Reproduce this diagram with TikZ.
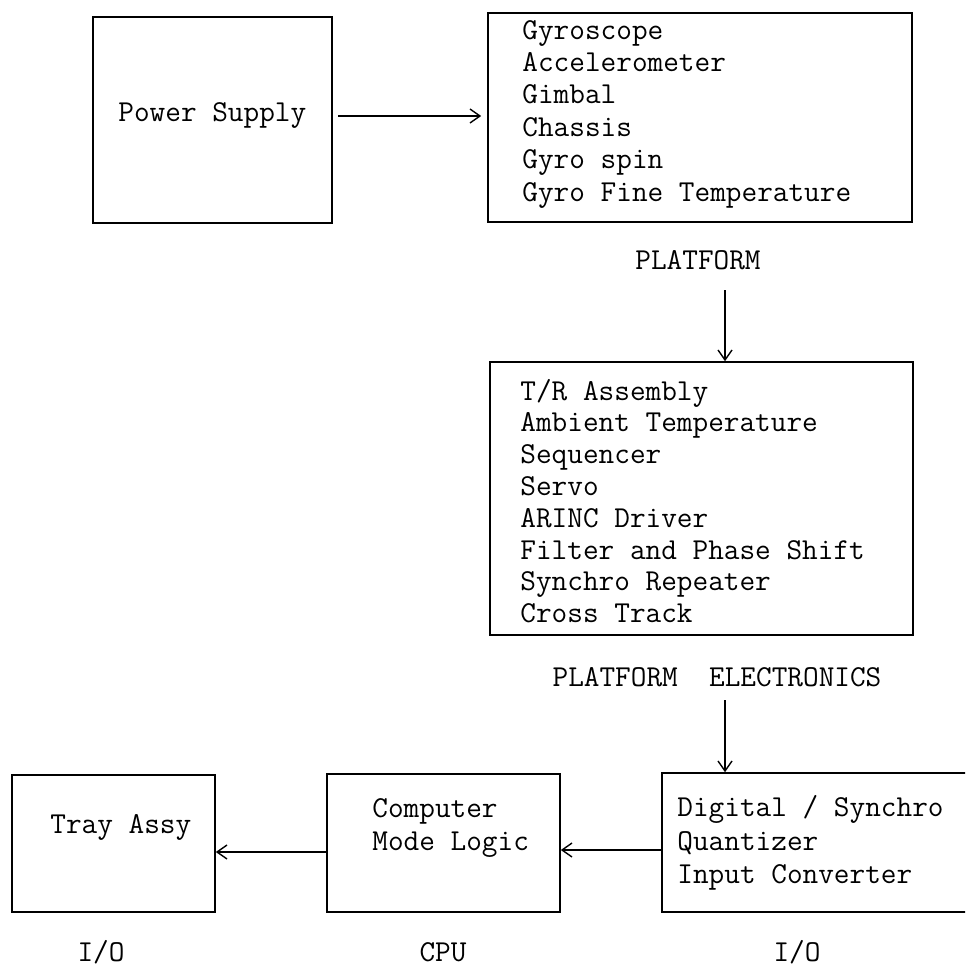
\documentclass[tikz,border=0pt]{standalone}
\usepackage{fontspec}
\usetikzlibrary{arrows.meta,fit}
\begin{document}
\begin{tikzpicture}[x=0.5pt,y=-0.5pt,
  box/.style={draw, line width=0.8pt, inner sep=0pt},
  txt/.style={font=\ttfamily\fontsize{15.2}{16.2}\selectfont, inner sep=0pt, align=left, anchor=west},
  txtb/.style={txt, font=\ttfamily\fontsize{15.2}{15.9}\selectfont},
  txtc/.style={txt, font=\ttfamily\fontsize{15.2}{16.6}\selectfont},
  lbl/.style={font=\ttfamily\fontsize{15.2}{16}\selectfont, inner sep=0pt},
  conn/.style={line width=0.7pt, -{Straight Barb[length=5pt,width=7pt]}}
]
\useasboundingbox (0,0) rectangle (965,968);
\clip (0,0) rectangle (965,968);

% boxes
\node[box, fit={(93,17) (332,223)}] (ps) {};
\node[box, fit={(488,13) (912,222)}] (plat) {};
\node[box, fit={(490,362) (913,635)}] (pe) {};
\node[box, fit={(662,773) (980,912)}] (dsq) {};
\node[box, fit={(327,774) (560,912)}] (cpu) {};
\node[box, fit={(12,775) (215,912)}] (tray) {};

% box texts
\node[txt] (pst) at (118,115) {Power Supply};
\node[txt] (platt) at (522,114) {Gyroscope\\Accelerometer\\Gimbal\\Chassis\\Gyro spin\\Gyro Fine Temperature};
\node[txtb] (pet) at (520,501) {T/R Assembly\\Ambient Temperature\\Sequencer\\Servo\\ARINC Driver\\Filter and Phase Shift\\Synchro Repeater\\Cross Track};
\node[txtc] (dsqt) at (677,843) {Digital / Synchro\\Quantizer\\Input Converter};
\node[txtc] (cput) at (372,828) {Computer\\Mode Logic};
\node[txt] (trayt) at (50,827) {Tray Assy};

% labels
\node[lbl] (platl) at (698,260) {PLATFORM};
\node[lbl] (pel) at (717,677) {PLATFORM~~ELECTRONICS};
\node[lbl] (io1) at (101,952) {I/O};
\node[lbl] (cpul) at (443,952) {CPU};
\node[lbl] (io2) at (797,952) {I/O};

% connectors
\coordinate (c1) at (338,116);
\draw[conn] (c1) -- ([xshift=-3pt]c1 -| plat.west);
\coordinate (c2) at (725,290);
\draw[conn] (c2) -- (c2 |- pe.north);
\coordinate (c3) at (725,700);
\draw[conn] (c3) -- (c3 |- dsq.north);
\coordinate (c4) at (662,850);
\draw[conn] (c4) -- (c4 -| cpu.east);
\coordinate (c5) at (327,852);
\draw[conn] (c5) -- (c5 -| tray.east);
\end{tikzpicture}
\end{document}
